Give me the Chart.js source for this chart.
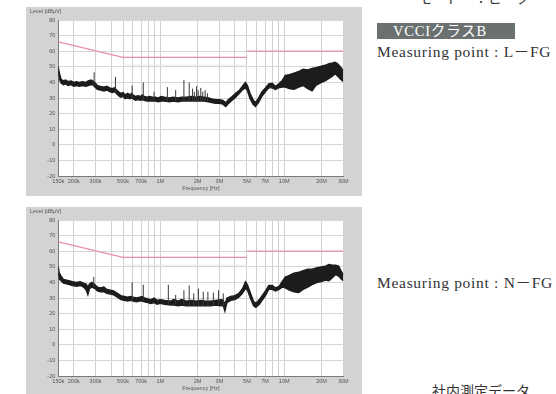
<!DOCTYPE html>
<html>
<head>
<meta charset="utf-8">
<script src="https://cdn.jsdelivr.net/npm/chart.js@4/dist/chart.umd.min.js"></script>
<style>
  html, body { margin: 0; padding: 0; background: #fff; width: 556px; height: 394px; overflow: hidden; position: relative; }
  .panel { position: absolute; left: 26px; width: 336px; height: 189px; background: #d3d3d3; }
  .panel canvas { position: absolute; left: 0; top: 0; }
  .txt { position: absolute; white-space: nowrap; font-family: "Liberation Serif", "DejaVu Serif", "Noto Sans CJK JP", serif; color: #333; }
  .meas { font-size: 15.5px; line-height: 16px; letter-spacing: 0.7px; }
  .jp { font-family: "Liberation Serif", "Noto Sans CJK JP", serif; }
  .badge { position: absolute; left: 377px; top: 23px; width: 138px; height: 16px; background: #6b7171; color: #fff;
           font-family: "Liberation Serif", "Noto Sans CJK JP", serif; font-size: 14.5px; line-height: 16px; letter-spacing: 0.8px;
           padding-left: 16px; box-sizing: border-box; white-space: nowrap; }
</style>
</head>
<body>
<div class="txt jp" style="left:418px; top:-8px; font-size:14px; line-height:14px;">モード　：ピーク</div>
<div class="badge">VCCIクラスB</div>
<div class="txt meas" style="left:377px; top:44px;">Measuring point : L－FG</div>

<div class="panel" style="top:7px;"><canvas id="chartL" width="336" height="189"></canvas></div>
<div class="panel" style="top:207px;"><canvas id="chartN" width="336" height="189"></canvas></div>

<div class="txt meas" style="left:377px; top:275px;">Measuring point : N－FG</div>
<div class="txt jp" style="left:432px; top:385px; font-size:14px; line-height:14px;">社内測定データ</div>

<script>
// Frequency axis (MHz): grid lines and labelled ticks
const xGrid = [0.15, 0.2, 0.3, 0.4, 0.5, 0.6, 0.7, 0.8, 0.9, 1, 2, 3, 4, 5, 6, 7, 8, 9, 10, 20, 30];
const xLabelValues = [0.15, 0.2, 0.3, 0.5, 0.7, 1, 2, 3, 5, 7, 10, 20, 30];
const xLabelTexts = ['150k', '200k', '300k', '500k', '700k', '1M', '2M', '3M', '5M', '7M', '10M', '20M', '30M'];

// Level axis (dBµV)
const yMin = -20;
const yMax = 80;
const yStep = 10;

// VCCI Class B quasi-peak limit (null = break at 5 MHz)
const limitFreq  = [0.15, 0.5, 5, 5, 5, 30];
const limitLevel = [66, 56, 56, null, 60, 60];

// Margin line
const marginFreq  = [0.5, 5];
const marginLevel = [51, 51];

// Peak trace, L-FG: frequency, upper and lower envelope
const freqL = [0.150, 0.153, 0.158, 0.165, 0.172, 0.180, 0.190, 0.200, 0.210, 0.222, 0.235, 0.250, 0.262, 0.275, 0.285, 0.296,
  0.310, 0.330, 0.350, 0.370, 0.390, 0.410, 0.425, 0.440, 0.460, 0.480, 0.500, 0.520, 0.545, 0.570, 0.585, 0.600, 0.630, 0.660,
  0.690, 0.715, 0.740, 0.780, 0.820, 0.860, 0.910, 0.960, 1.01, 1.08, 1.19, 1.26, 1.40, 1.48, 1.62, 1.78, 1.93, 2.08, 2.25, 2.45,
  2.60, 2.80, 3.00, 3.20, 3.37, 3.55, 3.80, 4.05, 4.35, 4.65, 4.87, 5.05, 5.30, 5.60, 5.87, 6.20, 6.60, 7.06, 7.50, 8.00, 8.50,
  9.00, 9.60, 10.2, 11.0, 12.0, 13.1, 14.2, 15.5, 16.8, 18.0, 20.0, 21.4, 23.0, 24.5, 25.8, 27.0, 28.5, 30.0];
const hiL = [50, 46, 42, 41, 41.5, 40.5, 41, 40, 40.5, 40, 40.5, 40, 41, 41.5, 41, 40,
  38, 37.5, 37, 37.5, 36.5, 36, 36.5, 35.5, 34, 33, 33.5, 32, 33, 32, 33, 32, 31, 31.5,
  31, 32, 31, 30.5, 31, 30.5, 30.5, 30, 31, 30.5, 30, 30.5, 30, 30.5, 30.5, 31, 30.5, 31, 30.5, 30,
  29.5, 29, 29, 28.5, 27, 29, 31, 33, 35, 38, 40, 38, 33, 29, 27, 30, 34, 36.5, 39, 39.5, 37.5,
  39, 41, 44.5, 45, 46, 47, 48.5, 48, 49, 49.5, 50.5, 51, 52, 52.5, 53, 52, 50, 47.5];
const loL = [47, 42, 39.5, 38.5, 39, 38, 38.5, 37.5, 38, 37.5, 38, 37.5, 38, 38.5, 38.5, 37,
  35.5, 35, 34.5, 35, 34, 33.5, 34, 33, 31.5, 30.5, 31, 29.5, 30, 29.5, 30, 29.5, 28.5, 29,
  28.5, 29, 28.5, 28, 28, 28, 28, 27.5, 28, 28, 27.5, 28, 27.5, 28, 28, 28, 28, 28, 28, 27.5,
  27, 26.5, 26.5, 26, 24.5, 26.5, 28.5, 30.5, 33, 35.5, 36.5, 34.5, 29.5, 26, 24.5, 27, 31, 34, 36.5, 36.5, 35.5,
  36.5, 37, 37, 36, 35.5, 37, 38, 36, 34.5, 38, 40, 41, 42.5, 44, 45.5, 44, 42, 40.5];

// Narrow peaks on the L-FG trace: frequency, top and base level
const spikeFreqL = [0.292, 0.434, 0.592, 0.728, 0.89, 1.14, 1.33, 1.55, 1.71, 1.82, 1.88, 1.96, 2.02, 2.12, 2.20, 2.30, 2.40];
const spikeTopL  = [46.5, 43.5, 38, 40, 34, 37, 35, 41.5, 40, 36, 34, 37.5, 35, 36.5, 34, 35, 33];
const spikeBaseL = [38, 33.5, 30, 28.5, 28, 28, 28, 28, 28, 28, 28, 28, 28, 28, 28, 28, 28];

// Peak trace, N-FG: frequency, upper and lower envelope
const freqN = [0.150, 0.153, 0.158, 0.165, 0.175, 0.185, 0.195, 0.210, 0.225, 0.240, 0.252, 0.260, 0.268, 0.280, 0.297,
  0.310, 0.330, 0.350, 0.370, 0.395, 0.420, 0.450, 0.480, 0.510, 0.545, 0.575, 0.605, 0.640, 0.680, 0.712, 0.745,
  0.790, 0.840, 0.890, 0.940, 1.00, 1.08, 1.22, 1.28, 1.40, 1.48, 1.62, 1.78, 1.95, 2.12, 2.32, 2.55, 2.82, 3.10, 3.22,
  3.32, 3.45, 3.70, 4.00, 4.30, 4.60, 4.87, 5.05, 5.35, 5.65, 5.90, 6.30, 6.70, 7.06, 7.50, 8.00, 8.50, 9.10, 9.70,
  10.2, 11.0, 12.0, 13.1, 14.2, 15.5, 16.8, 18.5, 20.0, 21.5, 23.0, 24.5, 26.0, 27.5, 29.0, 30.0];
const hiN = [50, 46, 44, 42, 41.5, 41, 40.5, 40, 40.5, 39.5, 39, 37, 39, 40, 38.5,
  37, 36.5, 37, 35.5, 35, 34.5, 33, 31.5, 31, 30.5, 31, 30.5, 30, 30.5, 31, 30,
  29.5, 29, 30, 28.5, 29, 28.5, 28, 29, 28, 29, 28, 28.5, 28, 28.5, 28, 28, 28.5, 29, 28.5,
  26, 30, 31, 31.5, 33, 36, 40.5, 38.5, 33, 28, 26.5, 29, 32, 34.5, 38, 38, 36.5, 37.5, 41,
  43.5, 44.5, 46, 46.5, 47.5, 48.5, 48.5, 49.5, 50, 50.5, 51.5, 51, 51, 50.5, 47, 45];
const loN = [46, 42, 41, 39.5, 39, 38.5, 38, 37.5, 38, 37, 35, 32, 36, 37, 36,
  34.5, 34, 34, 33, 32.5, 32, 30.5, 29, 28.5, 28, 28.5, 28, 27.5, 28, 28, 27.5,
  27, 26.5, 27, 26, 26.5, 26, 25.5, 25.5, 25, 25.5, 25, 25, 25, 25, 25, 25, 25.5, 25, 25,
  21.5, 27, 28.5, 29, 30.5, 33, 36, 35, 29.5, 25, 24, 26, 29, 31.5, 35.5, 35.5, 34.5, 35.5, 37,
  36.5, 35, 34, 33.5, 35.5, 37, 38.5, 40, 40.5, 41.5, 41, 43, 45, 44, 42, 41];

// Narrow peaks on the N-FG trace: frequency, top and base level
const spikeFreqN = [0.290, 0.592, 0.728, 1.16, 1.33, 1.55, 1.71, 1.86, 2.03, 2.22, 2.42, 2.68, 2.95, 3.22];
const spikeTopN  = [43.5, 40, 38.5, 38.5, 32, 35, 38, 33, 36, 34, 34, 33.5, 35, 33];
const spikeBaseN = [37, 28.5, 28, 26, 25.5, 25.5, 25.5, 25, 25, 25, 25, 25, 25.5, 25];

function pts(xs, ys) { return xs.map((x, i) => ({ x: x, y: ys[i] })); }

// Vertical strokes from base to top, separated by gaps
function spikePts(xs, tops, bases) {
  const out = [];
  xs.forEach((x, i) => {
    out.push({ x: x, y: bases[i] }, { x: x, y: tops[i] }, { x: x, y: null });
  });
  return out;
}

const tickFont = { family: '"Liberation Sans", Arial, sans-serif', size: 5.5 };

// Axis titles drawn inside each panel
const titlesPlugin = {
  id: 'panelTitles',
  afterDraw(chart) {
    const ctx = chart.ctx;
    const a = chart.chartArea;
    ctx.save();
    ctx.fillStyle = '#555';
    ctx.font = '5.5px "Liberation Sans", Arial, sans-serif';
    ctx.textBaseline = 'middle';
    ctx.textAlign = 'left';
    ctx.fillText('Level [dBµV]', 4, 4.5);
    ctx.textAlign = 'center';
    ctx.fillText('Frequency [Hz]', (a.left + a.right) / 2, 181.5);
    ctx.restore();
  }
};

const plotBackground = {
  id: 'plotBackground',
  beforeDraw(chart) {
    const a = chart.chartArea;
    chart.ctx.save();
    chart.ctx.fillStyle = '#ffffff';
    chart.ctx.fillRect(a.left, a.top, a.right - a.left, a.bottom - a.top);
    chart.ctx.restore();
  }
};

function makeChart(id, freq, hi, lo, sf, st, sb) {
  return new Chart(document.getElementById(id), {
    type: 'line',
    data: {
      datasets: [
        { data: pts(limitFreq, limitLevel), borderColor: '#e691a7', borderWidth: 1.2, pointRadius: 0, fill: false, spanGaps: false },
        { data: pts(marginFreq, marginLevel), borderColor: '#e3f1e8', borderWidth: 1, pointRadius: 0, fill: false },
        { data: spikePts(sf, st, sb), borderColor: '#3a3a3a', borderWidth: 1, pointRadius: 0, fill: false, spanGaps: false },
        { data: pts(freq, hi), borderColor: '#1c1c1c', borderWidth: 1.3, pointRadius: 0, fill: false },
        { data: pts(freq, lo), borderColor: '#1c1c1c', borderWidth: 1.3, pointRadius: 0, fill: '-1', backgroundColor: '#1c1c1c' }
      ]
    },
    options: {
      responsive: false,
      animation: false,
      devicePixelRatio: 1,
      layout: { padding: { top: 13, right: 18.7, left: 0, bottom: 0 } },
      plugins: { legend: { display: false }, tooltip: { enabled: false }, title: { display: false } },
      elements: { line: { tension: 0 } },
      scales: {
        x: {
          type: 'logarithmic',
          min: 0.15,
          max: 30,
          afterBuildTicks: s => { s.ticks = xGrid.map(v => ({ value: v })); },
          afterFit: s => { s.height = 20; },
          ticks: {
            autoSkip: false, maxRotation: 0, minRotation: 0, padding: 2, font: tickFont, color: '#555',
            callback: function (v) {
              const i = xLabelValues.findIndex(t => Math.abs(t - v) < 1e-9);
              return i >= 0 ? xLabelTexts[i] : '';
            }
          },
          grid: { color: '#d0d0d0', lineWidth: 1, drawTicks: false },
          border: { color: '#7a7a7a', width: 1 }
        },
        y: {
          type: 'linear',
          min: yMin,
          max: yMax,
          afterFit: s => { s.width = 32.3; },
          ticks: { stepSize: yStep, padding: 3, font: tickFont, color: '#555' },
          grid: { color: '#d6d6d6', lineWidth: 1, drawTicks: false },
          border: { color: '#7a7a7a', width: 1 }
        }
      }
    },
    plugins: [plotBackground, titlesPlugin]
  });
}

makeChart('chartL', freqL, hiL, loL, spikeFreqL, spikeTopL, spikeBaseL);
makeChart('chartN', freqN, hiN, loN, spikeFreqN, spikeTopN, spikeBaseN);
</script>
</body>
</html>
